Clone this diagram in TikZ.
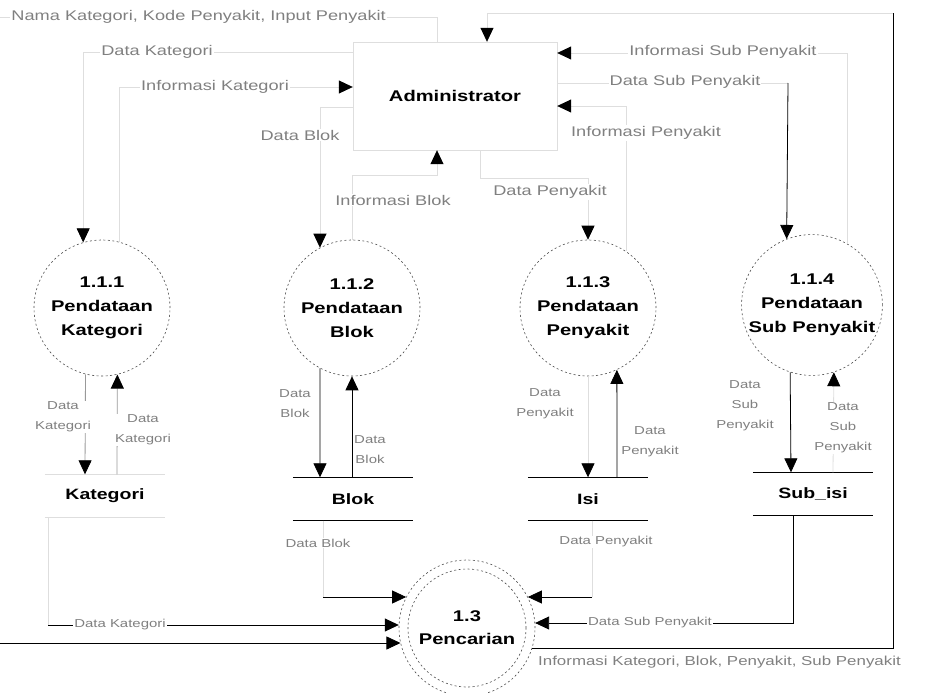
\documentclass[tikz,border=0pt]{standalone}
\usepackage{fontspec}
\setmainfont{Liberation Sans}[FakeStretch=1.3]
\usetikzlibrary{arrows.meta}

\begin{document}
\begin{tikzpicture}[x=1pt, y=-1pt,
  flow/.style={-{Triangle[length=14pt,width=13pt,color=black]}, line width=0.8pt},
  faint/.style={flow, draw=black!13},
  semi/.style={flow, draw=black!40},
  proc/.style={circle, minimum size=136pt, inner sep=0pt, draw=black!70, line width=0.6pt,
    dash pattern=on 2pt off 2.5pt, align=center, font=\fontsize{15.5}{24}\selectfont\bfseries},
  store/.style={minimum width=120pt, minimum height=43pt, inner sep=0pt,
    font=\fontsize{15}{18}\selectfont\bfseries},
  lbl/.style={fill=white, inner sep=1pt, text=black!50, align=center, font=\fontsize{14}{16}\selectfont},
  sml/.style={lbl, font=\fontsize{11.5}{20}\selectfont}]
  \useasboundingbox (0,0) rectangle (926,693);

  % entity and processes
  \node[draw=black!13, minimum width=204pt, minimum height=108pt,
    font=\fontsize{15.5}{18}\selectfont\bfseries] (admin) at (455,96) {Administrator};
  \node[proc] (p111) at (102,308) {1.1.1\\Pendataan\\Kategori};
  \node[proc] (p112) at (352,308) {1.1.2\\Pendataan\\Blok};
  \node[proc] (p113) at (588,308) {1.1.3\\Pendataan\\Penyakit};
  \node[proc] (p114) at (812,305) {1.1.4\\Pendataan\\Sub Penyakit};
  \node[proc, font=\fontsize{15.5}{23}\selectfont\bfseries] (pc) at (467,628) {1.3\\Pencarian};
  \draw[black!70, line width=0.6pt, dash pattern=on 2pt off 2.5pt] (pc.center) circle (59pt);

  % data stores
  \node[store] (kat) at (105,496) {Kategori};
  \node[store] (blok) at (353,499) {Blok};
  \node[store] (isi) at (588,499) {Isi};
  \node[store] (subisi) at (813,494) {Sub\_isi};
  \foreach \s in {blok,isi,subisi}
    \draw[line width=0.8pt] (\s.north west) -- (\s.north east) (\s.south west) -- (\s.south east);
  \draw[black!13, line width=0.8pt] (kat.north west) -- (kat.north east) (kat.south west) -- (kat.south east);

  % bend points
  \coordinate (topR) at (893,13);
  \coordinate (topL) at (0,17);
  \coordinate (botL) at (0,643);
  \coordinate (ib) at (437,175);
  \coordinate (dp) at (588,178);
  \coordinate (dsp) at (788,83);
  \coordinate (bk) at (323,597);
  \coordinate (kg) at (48,625);
  \coordinate (ip) at (592,597);
  \coordinate (sb) at (793,623);

  % Pencarian <-> Administrator
  \draw[line width=0.8pt] (pc.-17) -| (topR);
  \draw[faint] (topR) -| ([xshift=32pt]admin.north);
  \draw[faint,-] ([xshift=-18pt]admin.north) |- (topL);
  \draw[flow] (botL) -- (botL -| pc.193);

  % Administrator <-> 1.1.x
  \draw[faint] ([yshift=44pt]admin.west) -| (p111.106);
  \draw[faint] (p111.75) |- ([yshift=9pt]admin.west);
  \draw[faint] ([yshift=-11pt]admin.west) -| (p112.118);
  \draw[faint] (p112.north) |- (ib) -- ([xshift=-18pt]admin.south);
  \draw[faint] ([xshift=25pt]admin.south) |- (dp) -- (p113.north);
  \draw[faint] (p113.56) |- ([yshift=-10pt]admin.east);
  \draw[faint,-] ([yshift=13pt]admin.east) -- (dsp);
  \draw[flow] (dsp) -- (p114.111);
  \draw[faint] (p114.60) |- ([yshift=43pt]admin.east);

  % 1.1.x <-> stores
  \draw[semi] (p111.256) -- ([xshift=-20pt]kat.north);
  \draw[semi] ([xshift=12pt]kat.north) -- (p111.283);
  \draw[flow] (p112.242) -- ([xshift=-33pt]blok.north);
  \draw[flow] ([xshift=-1pt]blok.north) -- (p112.south);
  \draw[faint] (p113.south) -- (isi.north);
  \draw[flow] ([xshift=29pt]isi.north) -- (p113.295);
  \draw[flow] (p114.252) -- ([xshift=-22pt]subisi.north);
  \draw[faint] ([xshift=20pt]subisi.north) -- (p114.288);

  % stores -> Pencarian
  \draw[faint,-] ([xshift=-30pt]blok.south) -- (bk);
  \draw[flow] (bk) -- (bk -| pc.153);
  \draw[faint,-] ([xshift=-57pt]kat.south) -- (kg);
  \draw[flow] (kg) -- (kg -| pc.177);
  \draw[faint,-] ([xshift=4pt]isi.south) -- (ip);
  \draw[flow] (ip) -- (ip -| pc.27);
  \draw[flow] ([xshift=-20pt]subisi.south) -- (sb) -- (sb -| pc.4);

  % flow labels
  \node[lbl, anchor=east] (lIn) at (387,17) {Nama Kategori, Kode Penyakit, Input Penyakit};
  \node[lbl] (lDK) at (157,52) {Data Kategori};
  \node[lbl] (lIK) at (215,87) {Informasi Kategori};
  \node[lbl] (lDB) at (300,135) {Data Blok};
  \node[lbl] (lIB) at (393,200) {Informasi Blok};
  \node[lbl] (lDP) at (550,192) {Data Penyakit};
  \node[lbl] (lISP) at (723,52) {Informasi Sub Penyakit};
  \node[lbl] (lDSP) at (685,82) {Data Sub Penyakit};
  \node[lbl] (lIP) at (646,133) {Informasi Penyakit};
  \node[sml] (k1) at (63,417) {Data\\Kategori};
  \node[sml] (k2) at (143,430) {Data\\Kategori};
  \node[sml] (b1) at (295,404) {Data\\Blok};
  \node[sml] (b2) at (370,450) {Data\\Blok};
  \node[sml] (i1) at (545,404) {Data\\Penyakit};
  \node[sml] (i2) at (650,442) {Data\\Penyakit};
  \node[sml] (s1) at (745,406) {Data\\Sub\\Penyakit};
  \node[sml] (s2) at (843,428) {Data\\Sub\\Penyakit};
  \node[sml] (qb) at (318,543) {Data Blok};
  \node[sml] (qi) at (606,542) {Data Penyakit};
  \node[sml] (qk) at (120,625) {Data Kategori};
  \node[sml] (qs) at (650,623) {Data Sub Penyakit};
  \node[lbl, anchor=west, fill=none, font=\fontsize{13}{15}\selectfont] (lOut) at (537,662)
    {Informasi Kategori, Blok, Penyakit, Sub Penyakit};
\end{tikzpicture}
\end{document}
